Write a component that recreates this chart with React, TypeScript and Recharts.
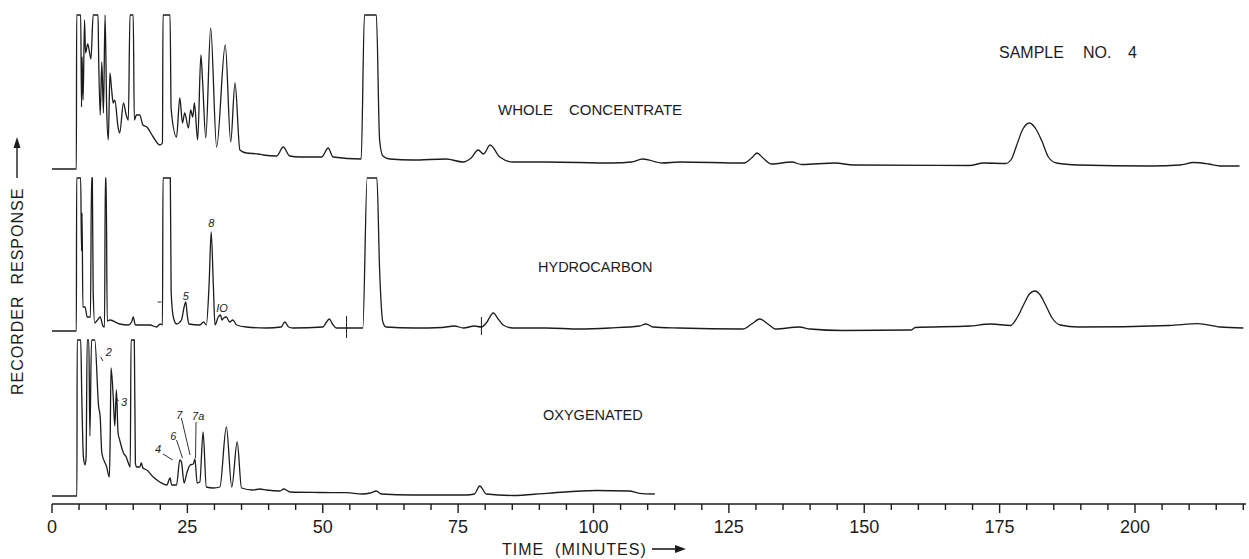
import React from 'react';
import { ComposedChart, Line, XAxis, YAxis, Scatter, ReferenceLine } from 'recharts';

// [time (min), recorder response above the trace's own starting baseline]
const WHOLE_CONCENTRATE: [number, number][] = [
  [0, 0], [4.5, 0], [4.55, 154], [5.3, 154], [5.45, 62], [5.55, 112], [5.75, 69], [6.0, 149], [6.2, 116], [6.6, 125],
  [7.2, 110], [7.6, 154], [8.5, 154], [8.6, 117], [8.9, 54], [9.2, 107], [9.5, 56], [9.8, 154], [10.1, 60], [10.4, 29],
  [10.7, 96], [11.0, 80], [11.3, 66], [11.6, 69], [12.2, 42], [12.5, 36], [13.2, 66], [13.7, 54], [14.1, 49], [14.4, 154],
  [15.0, 154], [15.2, 49], [15.6, 54], [16.2, 54], [16.8, 44], [17.5, 42], [18.7, 32], [19.9, 24], [20.4, 26], [20.5, 154],
  [21.8, 154], [22.0, 60], [23.0, 32], [23.6, 71], [24.1, 46], [24.5, 56], [25.2, 41], [25.6, 59], [26.0, 52], [26.3, 66],
  [26.9, 29], [27.5, 114], [27.8, 89], [28.4, 31], [29.3, 141], [30.4, 22], [32.0, 124], [33.0, 27], [33.8, 86], [34.7, 19],
  [35.9, 16], [38.1, 15], [39.0, 14], [41.5, 13], [42.7, 22], [43.9, 13], [45.8, 12], [49.8, 12], [51.0, 21], [51.9, 12],
  [57.1, 10], [57.7, 154], [59.9, 154], [60.5, 29], [61.1, 13], [62.4, 10], [66.6, 9], [72.8, 10], [75.9, 7], [77.4, 11],
  [78.7, 19], [79.7, 15], [80.9, 24], [82.7, 12], [85.1, 7], [91.3, 7], [103.5, 6], [107, 7], [109.1, 10], [112.7, 6],
  [115.9, 7], [127.8, 6], [129.2, 11], [130.2, 16], [131.3, 11], [132.9, 5], [136.6, 7], [138.5, 4.5], [144.6, 6], [148, 4],
  [169.4, 3.5], [172.1, 6], [176.1, 5.5], [177.2, 10], [178.1, 23], [179.3, 40], [180.5, 46], [181.7, 40], [182.8, 28],
  [184.0, 12], [185.5, 6], [189.5, 4], [203, 3], [208.3, 4], [210.8, 6.5], [213.6, 5], [215.7, 3], [219.3, 3],
];

const HYDROCARBON: [number, number][] = [
  [0, 0], [4.5, 0], [4.55, 153], [5.3, 153], [5.45, 80], [5.55, 118], [5.7, 24], [6.1, 24], [6.5, 14], [7.1, 14],
  [7.3, 153], [7.45, 153], [7.6, 40], [7.9, 8], [8.4, 11], [8.9, 14], [9.4, 5], [9.7, 4], [9.85, 153], [10.0, 153],
  [10.2, 10], [10.7, 11], [12.5, 7], [14.1, 6], [14.7, 9], [15.0, 14], [15.4, 6], [18.1, 6], [19.3, 4], [20.0, 7],
  [20.4, 6], [20.5, 153], [21.85, 153], [22.0, 40], [22.4, 14], [23.0, 7], [23.9, 11], [24.4, 24], [24.7, 29], [25.0, 15],
  [25.3, 7], [27.3, 6], [28.0, 9], [28.5, 6], [29.0, 45], [29.4, 99], [29.8, 45], [30.1, 6], [30.7, 14], [31.1, 16],
  [31.4, 11], [31.7, 13], [32.2, 14], [32.8, 9], [33.4, 11], [34.1, 6], [35.9, 4], [39.6, 3], [42.3, 4], [43.0, 9],
  [43.7, 4], [44.5, 3], [50.0, 4], [50.7, 9], [51.2, 12], [51.8, 7], [52.5, 3], [57.4, 3], [58.2, 153], [60.0, 153],
  [60.5, 61], [61.1, 9], [61.7, 4], [66.9, 3], [72, 3.5], [74.3, 5], [76, 3], [78, 5], [79.3, 4], [80.2, 8],
  [81.5, 18], [82.4, 12], [83.3, 6], [85.1, 3], [91.3, 3], [97.4, 2], [103, 3], [108.5, 5], [109.7, 7], [111, 4],
  [115.7, 3], [127.6, 2], [129.2, 7], [130.7, 12], [132.2, 7], [133.6, 2], [138, 4], [140, 2], [146, 0.5], [158.7, 1],
  [159.4, 3.5], [169.4, 5], [173.4, 7], [177, 5.5], [178.3, 14], [179.5, 27], [180.5, 37], [181.5, 40], [182.5, 36],
  [183.4, 27], [184.7, 13], [186.2, 6], [189.5, 4], [206.3, 5.5], [211.6, 7.4], [215.7, 4], [220, 3],
];

const OXYGENATED: [number, number][] = [
  [0, 0], [4.6, 0], [4.65, 156], [5.3, 156], [5.5, 100], [5.8, 39], [6.1, 31], [6.3, 39], [6.5, 156], [6.8, 156],
  [7.0, 60], [7.3, 156], [7.9, 156], [8.6, 90], [8.9, 79], [9.2, 43], [10.1, 29], [10.6, 19], [10.75, 60], [10.9, 128],
  [11.3, 100], [11.6, 70], [11.9, 106], [12.2, 63], [12.5, 56], [13.2, 43], [13.7, 39], [14.1, 33], [14.45, 29], [14.6, 156],
  [15.2, 156], [15.4, 33], [15.6, 29], [16.2, 29], [16.5, 33], [16.8, 28], [17.5, 26], [18.7, 19], [19.9, 14], [21.2, 11],
  [21.8, 18], [22.1, 11], [23.0, 11], [23.6, 36], [23.9, 34], [24.4, 13], [24.9, 23], [25.5, 31], [26.1, 32], [26.4, 37],
  [26.8, 13], [27.3, 14], [27.9, 64], [28.5, 9], [29.8, 8], [31.0, 9], [32.2, 69], [33.2, 9], [34.2, 54], [35.0, 8],
  [37.1, 6], [38.4, 7], [39.6, 6], [42.1, 5], [42.8, 7], [44, 4], [49.4, 3.5], [54.4, 3.3], [57.3, 2], [58.8, 3],
  [59.9, 5], [60.8, 2], [66.6, 1], [76.5, 1], [78, 2], [79, 10], [80.2, 2], [85.1, 0.5], [91.3, 2.7], [100.5, 5.5],
  [106.6, 5], [108.5, 2.7], [111.3, 2],
];

// vertical position of each trace's starting baseline (response units)
const OFFSET_WHOLE = 335;
const OFFSET_HYDRO = 173;
const OFFSET_OXY = 8;

const TICKS = [0, 5, 10, 15, 20, 25, 30, 35, 40, 45, 50, 55, 60, 65, 70, 75, 80, 85, 90, 95, 100, 105, 110, 115, 120,
  125, 130, 135, 140, 145, 150, 155, 160, 165, 170, 175, 180, 185, 190, 195, 200, 205, 210, 215, 220];
const MAJOR_TICKS = [0, 25, 50, 75, 100, 125, 150, 175, 200];

// peak numbers written on the chart: [time, response, text]
const PEAK_NUMBERS: [number, number, string][] = [
  [24.7, 208, '5'], [29.4, 281, '8'], [31.4, 196, 'IO'],
  [10.5, 152, '2'], [13.3, 102, '3'], [19.6, 55, '4'], [22.4, 68, '6'], [23.5, 89, '7'], [27.0, 88, '7a'],
];
// leader lines and pen dashes: [t1, r1, t2, r2]
const LEADERS: [number, number, number, number][] = [
  [20.5, 50, 22.3, 44], [23.0, 64, 24.1, 46], [23.9, 86, 25.5, 49], [26.6, 82, 26.5, 46],
  [11.8, 106, 12.3, 103], [9.0, 147, 9.4, 143], [19.5, 202, 20.2, 202],
];
// pen marks across the hydrocarbon trace: [t, low, high]
const PEN_MARKS: [number, number, number][] = [
  [54.4, 166, 188], [79.3, 169, 187],
];

const INK = '#1c1c1c';
const FONT = '"Liberation Sans", Arial, Helvetica, sans-serif';

const toRows = (arr: [number, number][], off: number) => arr.map(([t, r]) => ({ t, v: r + off }));

const AxisTick = (props: any) => {
  const { x, y, payload } = props;
  const v = payload.value;
  const major = MAJOR_TICKS.includes(v);
  return (
    <g>
      <line x1={x} x2={x} y1={y} y2={y + (major ? 9 : 6)} stroke={INK} strokeWidth={1.4} />
      {major && (
        <text x={x} y={y + 29} textAnchor="middle" fontSize={18} fontFamily={FONT} fill={INK}>
          {v}
        </text>
      )}
    </g>
  );
};

const PeakText = (props: any) => {
  const { cx, cy, payload } = props;
  return (
    <text x={cx} y={cy + 4} textAnchor="middle" fontSize={11} fontStyle="italic" fontFamily={FONT} fill={INK}>
      {payload.label}
    </text>
  );
};

export default function App() {
  const whole = toRows(WHOLE_CONCENTRATE, OFFSET_WHOLE);
  const hydro = toRows(HYDROCARBON, OFFSET_HYDRO);
  const oxy = toRows(OXYGENATED, OFFSET_OXY);
  const labels = PEAK_NUMBERS.map(([t, v, label]) => ({ t, v, label }));

  return (
    <div style={{ position: 'fixed', left: 0, top: 0, width: 1249, height: 559, background: '#fff' }}>
      <ComposedChart width={1249} height={559} margin={{ top: 10, right: 3, bottom: 0, left: 52 }}>
        <XAxis
          type="number"
          dataKey="t"
          domain={[0, 220.5]}
          ticks={TICKS}
          interval={0}
          allowDataOverflow
          height={55}
          tickLine={false}
          tickSize={0}
          tickMargin={0}
          axisLine={{ stroke: INK, strokeWidth: 1.6 }}
          tick={<AxisTick />}
        />
        <YAxis
          type="number"
          dataKey="v"
          domain={[0, 494]}
          allowDataOverflow
          width={0}
          tick={false}
          tickLine={false}
          axisLine={{ stroke: INK, strokeWidth: 1.6 }}
        />
        <Line data={whole} dataKey="v" type="monotone" dot={false} stroke={INK} strokeWidth={1.3} isAnimationActive={false} />
        <Line data={hydro} dataKey="v" type="monotone" dot={false} stroke={INK} strokeWidth={1.3} isAnimationActive={false} />
        <Line data={oxy} dataKey="v" type="monotone" dot={false} stroke={INK} strokeWidth={1.3} isAnimationActive={false} />
        {LEADERS.map(([t1, r1, t2, r2], i) => (
          <ReferenceLine key={'l' + i} segment={[{ x: t1, y: r1 }, { x: t2, y: r2 }]} stroke={INK} strokeWidth={0.9} />
        ))}
        {PEN_MARKS.map(([t, lo, hi], i) => (
          <ReferenceLine key={'m' + i} segment={[{ x: t, y: lo }, { x: t, y: hi }]} stroke={INK} strokeWidth={1} />
        ))}
        <Scatter data={labels} dataKey="v" shape={<PeakText />} isAnimationActive={false} />
      </ComposedChart>
      <svg width={1249} height={559} style={{ position: 'absolute', left: 0, top: 0, pointerEvents: 'none' }}>
        <g fontFamily={FONT} fill={INK}>
          <text x={999} y={58} fontSize={16}>SAMPLE</text>
          <text x={1083} y={58} fontSize={16}>NO.</text>
          <text x={1128} y={58} fontSize={16}>4</text>
          <text x={498} y={115} fontSize={15}>WHOLE</text>
          <text x={569} y={115} fontSize={15}>CONCENTRATE</text>
          <text x={538} y={272} fontSize={14.5}>HYDROCARBON</text>
          <text x={543} y={420} fontSize={14.5}>OXYGENATED</text>
          <text x={502} y={555} fontSize={16} letterSpacing={1} style={{ whiteSpace: 'pre' }}>{'TIME  (MINUTES)'}</text>
          <line x1={652} y1={549} x2={676} y2={549} stroke={INK} strokeWidth={1.6} />
          <polygon points="686,549 675,545 675,553" fill={INK} />
          <text
            x={23}
            y={395}
            fontSize={16}
            letterSpacing={1}
            transform="rotate(-90 23 395)"
            style={{ whiteSpace: 'pre' }}
          >
            {'RECORDER  RESPONSE'}
          </text>
          <line x1={17} y1={178} x2={17} y2={147} stroke={INK} strokeWidth={1.4} />
          <polygon points="17,137 13.5,148 20.5,148" fill={INK} />
        </g>
      </svg>
    </div>
  );
}
